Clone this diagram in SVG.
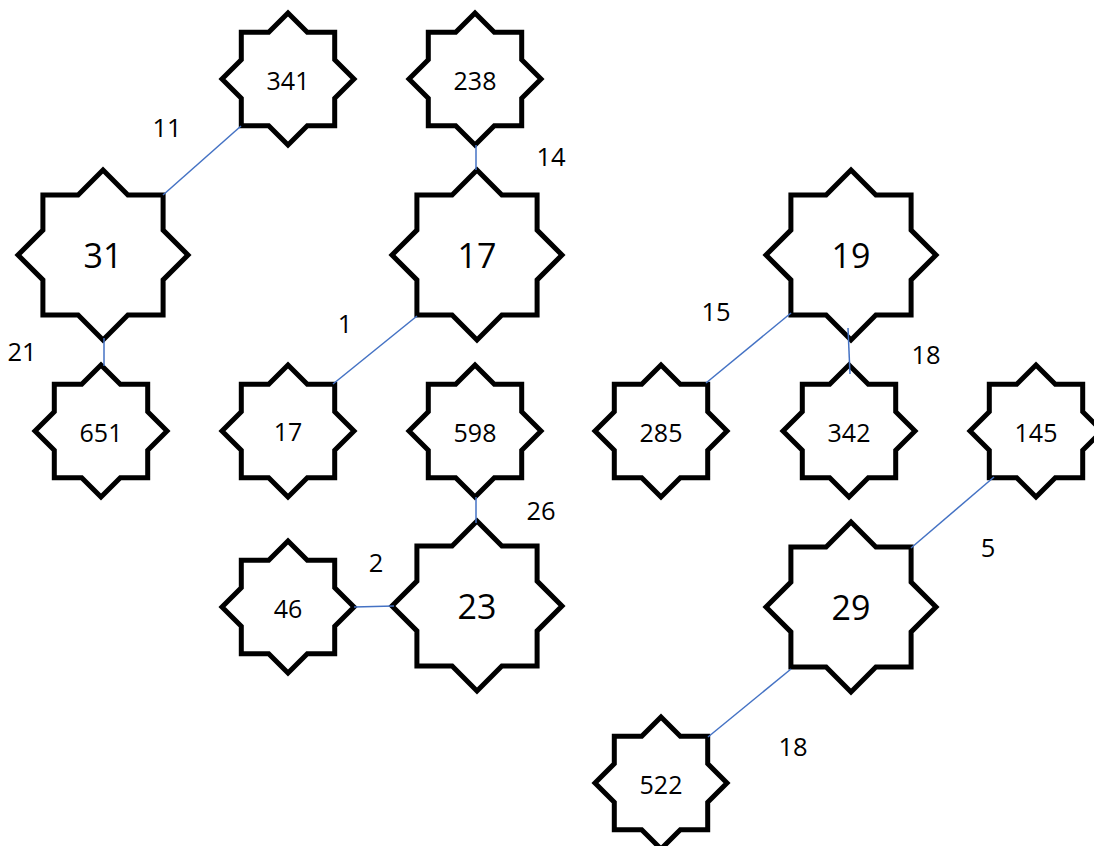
<svg xmlns="http://www.w3.org/2000/svg" xmlns:xlink="http://www.w3.org/1999/xlink" width="1094" height="846" viewBox="0 0 1094 846">
<style>
.star{fill:#ffffff;stroke:#000000;stroke-width:5;stroke-linejoin:miter;stroke-miterlimit:10}
.edge{stroke:#4472C4;stroke-width:1.5;fill:none}
.lbl{font-family:"Open Sans","Liberation Sans",Arial,sans-serif;fill:#000000;text-anchor:middle}
.big{font-size:34px}
.small{font-size:25px}
.elbl{font-family:"Open Sans","Liberation Sans",Arial,sans-serif;font-size:25.5px;fill:#000000;text-anchor:middle}
</style>
<defs>
<polygon id="starL" class="star" points="0,-85 24.9,-60.1 60.1,-60.1 60.1,-24.9 85,0 60.1,24.9 60.1,60.1 24.9,60.1 0,85 -24.9,60.1 -60.1,60.1 -60.1,24.9 -85,0 -60.1,-24.9 -60.1,-60.1 -24.9,-60.1"/>
<polygon id="starS" class="star" points="0,-66 19.3,-46.7 46.7,-46.7 46.7,-19.3 66,0 46.7,19.3 46.7,46.7 19.3,46.7 0,66 -19.3,46.7 -46.7,46.7 -46.7,19.3 -66,0 -46.7,-19.3 -46.7,-46.7 -19.3,-46.7"/>
</defs>
<rect width="1094" height="846" fill="#ffffff"/>

<g id="n31"><use href="#starL" x="103" y="255"/><text class="lbl big" x="103" y="268">31</text></g>
<g id="n17a"><use href="#starL" x="477" y="255"/><text class="lbl big" x="477" y="268">17</text></g>
<g id="n19"><use href="#starL" x="851" y="255"/><text class="lbl big" x="851" y="268">19</text></g>
<g id="n23"><use href="#starL" x="477" y="606"/><text class="lbl big" x="477" y="619">23</text></g>
<g id="n29"><use href="#starL" x="851" y="607"/><text class="lbl big" x="851" y="620">29</text></g>

<g id="n341"><use href="#starS" x="288" y="79"/><text class="lbl small" x="288" y="90">341</text></g>
<g id="n238"><use href="#starS" x="475" y="79"/><text class="lbl small" x="475" y="90">238</text></g>
<g id="n651"><use href="#starS" x="101" y="431"/><text class="lbl small" x="101" y="442">651</text></g>
<g id="n17b"><use href="#starS" x="288" y="431"/><text class="lbl small" x="288" y="441">17</text></g>
<g id="n598"><use href="#starS" x="475" y="431"/><text class="lbl small" x="475" y="442">598</text></g>
<g id="n285"><use href="#starS" x="661" y="431"/><text class="lbl small" x="661" y="442">285</text></g>
<g id="n342"><use href="#starS" x="849" y="431"/><text class="lbl small" x="849" y="442">342</text></g>
<g id="n145"><use href="#starS" x="1036" y="431"/><text class="lbl small" x="1036" y="442">145</text></g>
<g id="n46"><use href="#starS" x="288" y="607"/><text class="lbl small" x="288" y="618">46</text></g>
<g id="n522"><use href="#starS" x="661" y="783"/><text class="lbl small" x="661" y="794">522</text></g>

<g id="connectors">
<line class="edge" x1="163" y1="195" x2="241" y2="126"/>
<line class="edge" x1="104" y1="338" x2="104" y2="366"/>
<line class="edge" x1="476" y1="145" x2="476" y2="170"/>
<line class="edge" x1="417" y1="316" x2="333" y2="384"/>
<line class="edge" x1="476" y1="497" x2="476" y2="523"/>
<line class="edge" x1="354" y1="607" x2="394" y2="606"/>
<line class="edge" x1="791" y1="313" x2="706" y2="383"/>
<line class="edge" x1="848" y1="328" x2="850" y2="374"/>
<line class="edge" x1="994" y1="477" x2="911" y2="548"/>
<line class="edge" x1="791" y1="669" x2="708" y2="737"/>
</g>

<g id="edge-labels">
<text class="elbl" x="167" y="137">11</text>
<text class="elbl" x="22" y="361">21</text>
<text class="elbl" x="551" y="166">14</text>
<text class="elbl" x="345" y="333">1</text>
<text class="elbl" x="541" y="520">26</text>
<text class="elbl" x="376" y="572">2</text>
<text class="elbl" x="716" y="321">15</text>
<text class="elbl" x="926" y="364">18</text>
<text class="elbl" x="988" y="557">5</text>
<text class="elbl" x="793" y="756">18</text>
</g>
</svg>
